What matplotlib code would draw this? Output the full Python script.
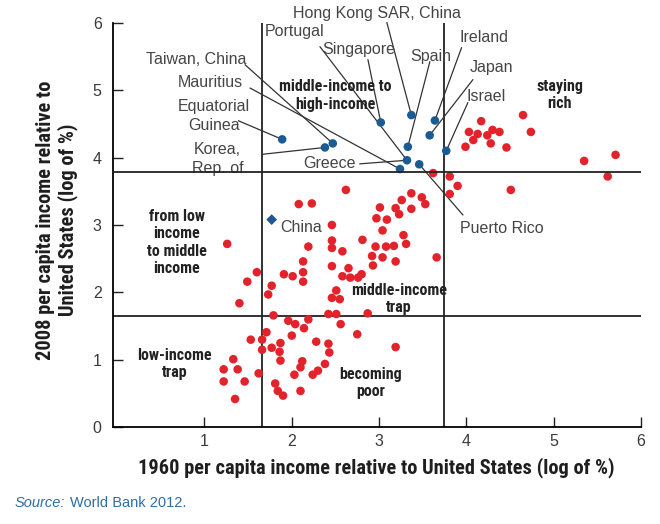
import matplotlib
matplotlib.use('Agg')
from matplotlib import pyplot as plt
from matplotlib import font_manager

# countries that stayed / fell / rose (red) - log of % of US income
red_x = [4.65, 4.17, 4.03, 4.13, 4.30, 4.38, 4.74, 4.24, 4.08, 4.28, 3.99, 4.46, 5.35, 5.71, 5.62,
         3.62, 3.81, 3.90, 3.81, 4.51, 3.66,
         2.62, 3.37, 3.49, 3.26, 3.53, 3.01, 3.19, 3.37, 3.23, 2.97, 3.09, 3.04, 3.28, 2.81, 3.31,
         2.96, 3.08, 3.17, 2.92, 3.04, 3.19, 2.93, 2.65, 2.58, 2.67, 2.76, 2.80, 2.87, 2.75, 3.19,
         2.08, 2.23, 2.46, 1.26, 2.46, 2.46, 2.19, 2.58, 2.13, 2.46, 1.60, 1.91, 2.01, 2.13, 1.49,
         2.13, 1.77, 2.51, 1.73, 2.46, 2.55, 1.40,
         1.79, 1.96, 2.04, 2.19, 2.42, 2.51, 2.56, 2.14, 1.71, 2.00, 1.53, 1.66, 1.77, 1.87, 1.66,
         1.86, 2.28, 2.42, 2.43, 1.87, 1.33, 1.22, 1.38, 2.12, 2.10, 2.38, 2.03, 1.62, 2.24, 2.30,
         1.22, 1.46, 1.81, 1.84, 1.90, 2.10, 1.35]
red_y = [4.63, 4.54, 4.38, 4.35, 4.41, 4.38, 4.38, 4.33, 4.26, 4.21, 4.16, 4.15, 3.95, 4.04, 3.72,
         3.77, 3.72, 3.58, 3.46, 3.52, 2.52,
         3.52, 3.47, 3.41, 3.37, 3.31, 3.26, 3.25, 3.24, 3.16, 3.10, 3.08, 2.92, 2.85, 2.78, 2.72,
         2.68, 2.68, 2.69, 2.54, 2.52, 2.46, 2.40, 2.36, 2.24, 2.22, 2.22, 2.27, 1.69, 1.38, 1.19,
         3.31, 3.32, 3.00, 2.72, 2.77, 2.66, 2.68, 2.61, 2.46, 2.39, 2.30, 2.27, 2.24, 2.30, 2.16,
         2.16, 2.10, 2.03, 1.97, 1.92, 1.90, 1.84,
         1.66, 1.58, 1.53, 1.60, 1.68, 1.68, 1.53, 1.47, 1.41, 1.36, 1.30, 1.30, 1.18, 1.25, 1.15,
         1.12, 1.27, 1.24, 1.11, 0.99, 1.01, 0.86, 0.86, 0.98, 0.89, 0.94, 0.78, 0.80, 0.78, 0.84,
         0.68, 0.68, 0.65, 0.54, 0.47, 0.54, 0.42]

# middle-income to high-income economies (blue)
blue_names = ['Equatorial\nGuinea', 'Korea,\nRep. of', 'Taiwan, China', 'Singapore',
              'Hong Kong SAR, China', 'Ireland', 'Japan', 'Israel', 'Spain', 'Greece',
              'Puerto Rico', 'Mauritius']
blue_x = [1.89, 2.38, 2.47, 3.02, 3.37, 3.64, 3.58, 3.77, 3.33, 3.32, 3.46, 3.24]
blue_y = [4.27, 4.15, 4.21, 4.52, 4.63, 4.55, 4.33, 4.10, 4.16, 3.96, 3.90, 3.83]
portugal_target = 'Greece'

china_x = 1.77
china_y = 3.08

# group thresholds
x_low, x_high = 1.66, 3.75
y_low, y_high = 1.65, 3.79

# pick a narrow bold face if one is around
fonts = font_manager.fontManager.ttflist
names = {f.name for f in fonts}
if 'Roboto Condensed' in names:
    NARROW, nscale, nstretch = ['Roboto Condensed', 'DejaVu Sans'], 1.18, 'normal'
elif 'Liberation Sans Narrow' in names:
    NARROW, nscale, nstretch = ['Liberation Sans Narrow', 'DejaVu Sans'], 1.18, 'normal'
elif any(f.name == 'DejaVu Sans' and f.stretch == 'condensed' for f in fonts):
    NARROW, nscale, nstretch = ['DejaVu Sans'], 1.0, 'condensed'
else:
    NARROW, nscale, nstretch = ['Liberation Sans', 'DejaVu Sans'], 1.0, 'normal'
REG = ['Liberation Sans', 'DejaVu Sans']
txt_col = '#454545'

fig = plt.figure(figsize=(6.6, 5.24), dpi=100)
ax = fig.add_axes([0.171, 0.1845, 0.8, 0.7722])

ax.set_xlim(-0.05, 6)
ax.set_ylim(0, 6)

ax.axvline(x_low, color='#222222', lw=1.3, zorder=1)
ax.axvline(x_high, color='#222222', lw=1.3, zorder=1)
ax.axhline(y_low, color='#222222', lw=1.3, zorder=1)
ax.axhline(y_high, color='#222222', lw=1.3, zorder=5)

ax.scatter(red_x, red_y, s=38, color='#e3232b', edgecolors='none', zorder=3)
ax.scatter(blue_x, blue_y, s=38, color='#1b5b93', edgecolors='none', zorder=3)
ax.scatter([china_x], [china_y], s=30, marker='D', color='#1f5590', edgecolors='none', zorder=3)

# label: (text x, text y, ha, line start x, line start y)
label_pos = {
    'Equatorial\nGuinea': (1.11, 4.62, 'center', 1.39, 4.545),
    'Korea,\nRep. of': (1.15, 3.975, 'center', 1.675, 4.05),
    'Taiwan, China': (1.485, 5.45, 'right', 1.466, 5.375),
    'Singapore': (2.346, 5.60, 'left', 2.873, 5.45),
    'Hong Kong SAR, China': (2.015, 6.13, 'left', 3.09, 6.0),
    'Ireland': (3.926, 5.776, 'left', 3.945, 5.628),
    'Japan': (4.04, 5.331, 'left', 4.074, 5.153),
    'Israel': (4.006, 4.901, 'left', 4.017, 4.812),
    'Spain': (3.353, 5.494, 'left', 3.582, 5.42),
    'Greece': (2.129, 3.907, 'left', 2.781, 3.907),
    'Puerto Rico': (3.926, 2.943, 'left', 3.96, 3.15),
    'Mauritius': (1.439, 5.119, 'right', 1.523, 5.03),
}

for name, x, y in zip(blue_names, blue_x, blue_y):
    tx, ty, ha, sx, sy = label_pos[name]
    ax.text(tx, ty, name, ha=ha, va='center', fontsize=11.5, family=REG,
            color=txt_col, linespacing=1.3, zorder=4)
    ax.plot([sx, x], [sy, y], color='#333333', lw=0.9, zorder=2, clip_on=False)

gi = blue_names.index(portugal_target)
ax.text(1.694, 5.865, 'Portugal', ha='left', va='center', fontsize=11.5, family=REG,
        color=txt_col, zorder=4)
ax.plot([2.324, blue_x[gi]], [5.642, blue_y[gi]], color='#333333', lw=0.9, zorder=2)

ax.text(china_x + 0.1, 2.957, 'China', ha='left', va='center', fontsize=11.5,
        family=REG, color=txt_col)

# group labels
groups = [
    ('middle-income to\nhigh-income', 2.50, 4.92),
    ('staying\nrich', 5.07, 4.93),
    ('from low\nincome\nto middle\nincome', 0.68, 2.74),
    ('middle-income\ntrap', 3.23, 1.905),
    ('low-income\ntrap', 0.654, 0.94),
    ('becoming\npoor', 2.907, 0.66),
]
for g, gx, gy in groups:
    ax.text(gx, gy, g, ha='center', va='center', fontsize=9.8 * nscale, fontweight='bold',
            family=NARROW, fontstretch=nstretch, color='#222222', linespacing=1.2, zorder=4)

ax.spines['top'].set_visible(False)
ax.spines['right'].set_visible(False)
ax.spines['left'].set_linewidth(1.3)
ax.spines['bottom'].set_linewidth(1.3)

ax.set_xticks([1, 2, 3, 4, 5, 6])
ax.set_yticks([0, 1, 2, 3, 4, 5, 6])
ax.tick_params(direction='in', length=7, width=1, colors='#222222',
               labelcolor='#3a3a3a', labelsize=11.5)
ax.tick_params(axis='x', pad=5)
ax.tick_params(axis='y', pad=8)
for lab in ax.get_xticklabels() + ax.get_yticklabels():
    lab.set_family(REG)

fig.text(0.570, 0.107, '1960 per capita income relative to United States (log of %)',
         ha='center', va='center', fontsize=12.4 * nscale, fontweight='bold', family=NARROW,
         fontstretch=nstretch, color='#1e1e1e')
fig.text(57 / 660, 1 - 220 / 524, '2008 per capita income relative to\nUnited States (log of %)',
         ha='center', va='center', rotation=90, fontsize=12.4 * nscale, fontweight='bold',
         family=NARROW, fontstretch=nstretch, color='#1e1e1e', linespacing=1.1)

src = fig.text(15 / 660, 1 - 510 / 524, 'Source:', fontsize=10.5, style='italic',
               family=REG, color='#2f6ea5', va='bottom')
ax.annotate('World Bank 2012.', xy=(1, 0), xycoords=src, xytext=(3, 0),
            textcoords='offset points', va='bottom', ha='left',
            fontsize=10.5, family=REG, color='#2f6ea5', annotation_clip=False)

fig.savefig('out.png', dpi=100)
